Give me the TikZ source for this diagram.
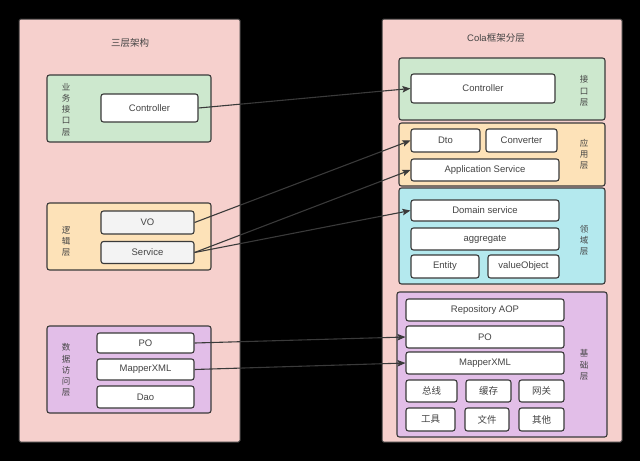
\documentclass[tikz,border=0pt]{standalone}
\usepackage{fontspec}
\setmainfont{Liberation Sans}
\newfontfamily\cjk{Noto Sans CJK SC}
\usetikzlibrary{arrows.meta}
\definecolor{bgpink}{HTML}{F6D0CD}
\definecolor{lgreen}{HTML}{CDE8CE}
\definecolor{lorange}{HTML}{FDE2B8}
\definecolor{lcyan}{HTML}{B4E9EE}
\definecolor{lpurple}{HTML}{E2BEE8}
\definecolor{edge}{HTML}{3A3A3A}
\definecolor{txt}{HTML}{444444}
\definecolor{vogray}{HTML}{F3F3F3}
\tikzset{
  panel/.style={draw=edge, line width=1pt, fill=bgpink, rounded corners=1.5pt, inner sep=0pt},
  layer/.style={draw=edge, line width=1.1pt, rounded corners=2.5pt, inner sep=0pt},
  item/.style={draw=edge, line width=1.1pt, fill=white, rounded corners=2.5pt, inner sep=0pt,
    text=txt, font=\fontsize{9.5}{11}\selectfont},
  ttl/.style={text=txt, font=\fontsize{9.5}{11}\selectfont, inner sep=0pt},
  vlab/.style={text=txt, align=center, inner sep=0pt, font=\cjk\fontsize{8.5}{11.2}\selectfont},
  conn/.style={draw=edge, line width=1.1pt, -{Stealth[length=8pt,width=6.5pt,inset=1.5pt]}}
}
\begin{document}
\begin{tikzpicture}[x=1pt,y=-1pt]
\fill[black] (0,0) rectangle (640,461);
\useasboundingbox (0,0) rectangle (640,461);

% ---------- left panel ----------
\node[panel, minimum width=221, minimum height=423] (lp) at (129.5,230.5) {};
\node[ttl] (lt) at (130,43) {\cjk 三层架构};

\node[layer, fill=lgreen, minimum width=164, minimum height=67] (lg) at (129,108.5) {};
\node[item, minimum width=97, minimum height=28] (lctrl) at (149.5,108) {Controller};
\node[vlab] (lgl) at (66,109.5) {业\\务\\接\\口\\层};

\node[layer, fill=lorange, minimum width=164, minimum height=67] (lo) at (129,236.5) {};
\node[item, fill=vogray, minimum width=93, minimum height=23] (lvo) at (147.5,222.5) {VO};
\node[item, fill=vogray, minimum width=93, minimum height=22] (lsvc) at (147.5,252.5) {Service};
\node[vlab] (lol) at (66,241.5) {逻\\辑\\层};

\node[layer, fill=lpurple, minimum width=164, minimum height=87] (lpu) at (129,369.5) {};
\node[item, minimum width=97, minimum height=20] (lpo) at (145.5,343) {PO};
\node[item, minimum width=97, minimum height=21] (lmap) at (145.5,369.5) {MapperXML};
\node[item, minimum width=97, minimum height=22] (ldao) at (145.5,397) {Dao};
\node[vlab] (lpl) at (66,370) {数\\据\\访\\问\\层};

% ---------- right panel ----------
\node[panel, minimum width=240, minimum height=423] (rp) at (502,230.5) {};
\node[ttl] (rt) at (496,38) {Cola{\cjk 框架分层}};

\node[layer, fill=lgreen, minimum width=206, minimum height=62] (rg) at (502,89) {};
\node[item, minimum width=144, minimum height=29] (rctrl) at (483,88.5) {Controller};
\node[vlab] (rgl) at (584,91) {接\\口\\层};

\node[layer, fill=lorange, minimum width=206, minimum height=63] (ro) at (502,154.5) {};
\node[item, minimum width=69, minimum height=23] (dto) at (445.5,140.5) {Dto};
\node[item, minimum width=71, minimum height=23] (conv) at (521.5,140.5) {Converter};
\node[item, minimum width=148, minimum height=22] (app) at (485,170) {Application Service};
\node[vlab] (rol) at (584,154.5) {应\\用\\层};

\node[layer, fill=lcyan, minimum width=206, minimum height=96] (rc) at (502,236) {};
\node[item, minimum width=148, minimum height=21] (dom) at (485,210.5) {Domain service};
\node[item, minimum width=148, minimum height=22] (agg) at (485,239) {aggregate};
\node[item, minimum width=68, minimum height=23] (ent) at (445,266.5) {Entity};
\node[item, minimum width=71, minimum height=23] (vob) at (523.5,266.5) {valueObject};
\node[vlab] (rcl) at (584,240.5) {领\\域\\层};

\node[layer, fill=lpurple, minimum width=210, minimum height=145] (rpu) at (502,364.5) {};
\node[item, minimum width=158, minimum height=22] (repo) at (485,310) {Repository AOP};
\node[item, minimum width=158, minimum height=22] (rpo) at (485,337) {PO};
\node[item, minimum width=158, minimum height=22] (rmap) at (485,363) {MapperXML};
\node[item, font=\cjk\fontsize{9.5}{11}\selectfont, minimum width=51, minimum height=22] (zx) at (431.5,391) {总线};
\node[item, font=\cjk\fontsize{9.5}{11}\selectfont, minimum width=45, minimum height=22] (hc) at (488.5,391) {缓存};
\node[item, font=\cjk\fontsize{9.5}{11}\selectfont, minimum width=45, minimum height=22] (wg) at (541.5,391) {网关};
\node[item, font=\cjk\fontsize{9.5}{11}\selectfont, minimum width=49, minimum height=23] (gj) at (430.5,419.5) {工具};
\node[item, font=\cjk\fontsize{9.5}{11}\selectfont, minimum width=44, minimum height=23] (wj) at (487,419.5) {文件};
\node[item, font=\cjk\fontsize{9.5}{11}\selectfont, minimum width=45, minimum height=23] (qt) at (541.5,419.5) {其他};
\node[vlab] (rpl) at (584,365) {基\\础\\层};

% ---------- connectors ----------
\draw[conn] (lctrl.east) -- (rctrl.west);
\draw[conn] (lvo.east) -- (dto.west);
\draw[conn] (lsvc.east) -- (app.west);
\draw[conn] (lsvc.east) -- (dom.west);
\draw[conn] (lpo.east) -- (rpo.west);
\draw[conn] (lmap.east) -- (rmap.west);
\end{tikzpicture}
\end{document}
